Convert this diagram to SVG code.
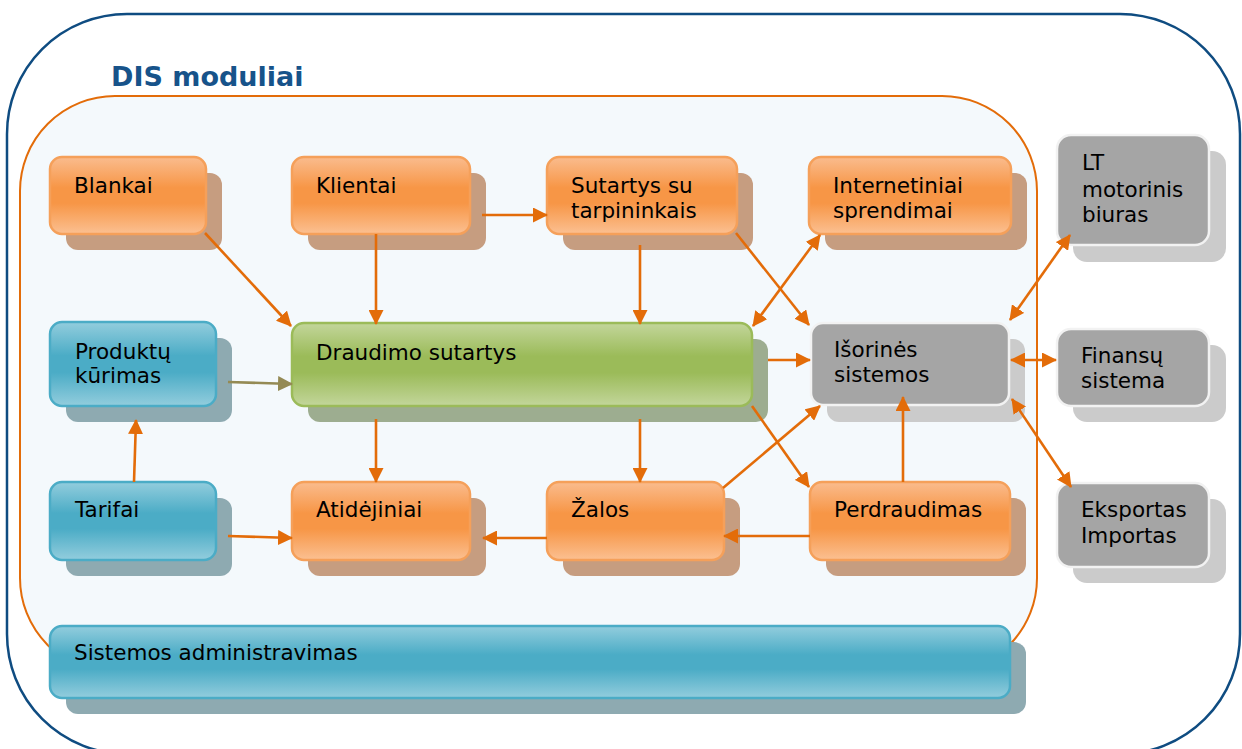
<svg xmlns="http://www.w3.org/2000/svg" width="1242" height="749" viewBox="0 0 1242 749">
<style>
.t{font-family:"DejaVu Sans","Verdana",sans-serif;font-size:21.5px;fill:#000}
.sh-o{fill:#c69d80}
.sh-b{fill:#8eaab1}
.sh-g{fill:#9dad90}
.sh-y{fill:#cbcbcb}
.n-o{fill:url(#gO);stroke:#f5a05a;stroke-width:2.5}
.n-b{fill:url(#gB);stroke:#4bacc6;stroke-width:2.5}
.n-g{fill:url(#gG);stroke:#9bbb59;stroke-width:2.5}
.n-y{fill:#a5a5a5;stroke:#f2f2f2;stroke-width:2.5}
.c{fill:none;stroke:#e36c09;stroke-width:2.6}
</style>
<defs>
<linearGradient id="gO" x1="0" y1="0" x2="0" y2="1">
<stop offset="0" stop-color="#fabc8e"/><stop offset="0.4" stop-color="#f79646"/><stop offset="0.6" stop-color="#f79646"/><stop offset="1" stop-color="#fbc092"/>
</linearGradient>
<linearGradient id="gB" x1="0" y1="0" x2="0" y2="1">
<stop offset="0" stop-color="#93cddd"/><stop offset="0.4" stop-color="#4bacc6"/><stop offset="0.6" stop-color="#4bacc6"/><stop offset="1" stop-color="#93cddd"/>
</linearGradient>
<linearGradient id="gG" x1="0" y1="0" x2="0" y2="1">
<stop offset="0" stop-color="#c3d69b"/><stop offset="0.4" stop-color="#9bbb59"/><stop offset="0.6" stop-color="#9bbb59"/><stop offset="1" stop-color="#c3d69b"/>
</linearGradient>
<marker id="a" markerUnits="userSpaceOnUse" markerWidth="15" markerHeight="15" refX="14" refY="7.5" orient="auto-start-reverse">
<path d="M0,0 L15,7.5 L0,15 z" fill="#e36c09"/>
</marker>
<marker id="ao" markerUnits="userSpaceOnUse" markerWidth="15" markerHeight="15" refX="14" refY="7.5" orient="auto">
<path d="M0,0 L15,7.5 L0,15 z" fill="#948a54"/>
</marker>
</defs>

<rect x="7" y="14" width="1233" height="740" rx="120" ry="120" fill="#ffffff" stroke="#0f4c81" stroke-width="2.5"/>
<text x="111" y="86" font-family="DejaVu Sans, Verdana, sans-serif" font-size="27" font-weight="bold" fill="#17538a">DIS moduliai</text>
<rect x="20" y="96" width="1017" height="577" rx="95" ry="95" fill="#f4f9fc" stroke="#e36c09" stroke-width="2"/>

<g id="blankai"><rect class="sh-o" x="66" y="173" width="156" height="77" rx="12"/><rect class="n-o" x="50" y="157" width="156" height="77" rx="12"/><text class="t" x="74" y="193">Blankai</text></g>
<g id="klientai"><rect class="sh-o" x="308" y="173" width="178" height="77" rx="12"/><rect class="n-o" x="292" y="157" width="178" height="77" rx="12"/><text class="t" x="316" y="193">Klientai</text></g>
<g id="sutartys"><rect class="sh-o" x="563" y="173" width="190" height="77" rx="12"/><rect class="n-o" x="547" y="157" width="190" height="77" rx="12"/><text class="t" x="571" y="193">Sutartys su</text><text class="t" x="571" y="218">tarpininkais</text></g>
<g id="internetiniai"><rect class="sh-o" x="825" y="173" width="202" height="77" rx="12"/><rect class="n-o" x="809" y="157" width="202" height="77" rx="12"/><text class="t" x="833" y="193">Internetiniai</text><text class="t" x="833" y="218">sprendimai</text></g>

<g id="produktu"><rect class="sh-b" x="66" y="338" width="166" height="84" rx="12"/><rect class="n-b" x="50" y="322" width="166" height="84" rx="12"/><text class="t" x="75" y="359">Produktų</text><text class="t" x="75" y="383">kūrimas</text></g>
<g id="draudimo"><rect class="sh-g" x="308" y="339" width="460" height="83" rx="12"/><rect class="n-g" x="292" y="323" width="460" height="83" rx="12"/><text class="t" x="316" y="360">Draudimo sutartys</text></g>
<g id="isorines"><rect class="sh-y" x="827" y="339" width="198" height="83" rx="12"/><rect class="n-y" x="811" y="323" width="198" height="82" rx="12"/><text class="t" x="834" y="357">Išorinės</text><text class="t" x="834" y="382">sistemos</text></g>

<g id="tarifai"><rect class="sh-b" x="66" y="498" width="166" height="78" rx="12"/><rect class="n-b" x="50" y="482" width="166" height="78" rx="12"/><text class="t" x="75" y="517">Tarifai</text></g>
<g id="atidejiniai"><rect class="sh-o" x="308" y="498" width="178" height="78" rx="12"/><rect class="n-o" x="292" y="482" width="178" height="78" rx="12"/><text class="t" x="316" y="517">Atidėjiniai</text></g>
<g id="zalos"><rect class="sh-o" x="563" y="498" width="177" height="78" rx="12"/><rect class="n-o" x="547" y="482" width="177" height="78" rx="12"/><text class="t" x="571" y="517">Žalos</text></g>
<g id="perdraudimas"><rect class="sh-o" x="826" y="498" width="200" height="78" rx="12"/><rect class="n-o" x="810" y="482" width="200" height="78" rx="12"/><text class="t" x="834" y="517">Perdraudimas</text></g>

<g id="admin"><rect class="sh-b" x="66" y="642" width="960" height="72" rx="12"/><rect class="n-b" x="50" y="626" width="960" height="72" rx="12"/><text class="t" x="74" y="660">Sistemos administravimas</text></g>

<g id="lt"><rect class="sh-y" x="1073" y="151" width="153" height="111" rx="14"/><rect class="n-y" x="1057" y="135" width="152" height="110" rx="14"/><text class="t" x="1082" y="170">LT</text><text class="t" x="1082" y="197">motorinis</text><text class="t" x="1082" y="222">biuras</text></g>
<g id="finansu"><rect class="sh-y" x="1073" y="345" width="153" height="77" rx="14"/><rect class="n-y" x="1057" y="329" width="152" height="77" rx="14"/><text class="t" x="1081" y="363">Finansų</text><text class="t" x="1081" y="388">sistema</text></g>
<g id="eksportas"><rect class="sh-y" x="1073" y="499" width="153" height="84" rx="14"/><rect class="n-y" x="1057" y="483" width="152" height="84" rx="14"/><text class="t" x="1081" y="517">Eksportas</text><text class="t" x="1081" y="543">Importas</text></g>

<g id="connectors">
<line class="c" x1="205" y1="233" x2="291" y2="326" marker-end="url(#a)"/>
<line class="c" x1="376" y1="234" x2="376" y2="324" marker-end="url(#a)"/>
<line class="c" x1="482" y1="215" x2="547" y2="215" marker-end="url(#a)"/>
<line class="c" x1="640" y1="245" x2="640" y2="324" marker-end="url(#a)"/>
<line class="c" x1="736" y1="233" x2="809" y2="325" marker-end="url(#a)"/>
<line class="c" x1="820" y1="235" x2="753" y2="326" marker-start="url(#a)" marker-end="url(#a)"/>
<line class="c" x1="768" y1="360" x2="810" y2="360" marker-end="url(#a)"/>
<line class="c" x1="752" y1="406" x2="809" y2="487" marker-end="url(#a)"/>
<line class="c" x1="723" y1="488" x2="820" y2="406" marker-end="url(#a)"/>
<line class="c" x1="903" y1="482" x2="903" y2="397" marker-end="url(#a)"/>
<line class="c" x1="376" y1="419" x2="376" y2="482" marker-end="url(#a)"/>
<line class="c" x1="640" y1="419" x2="640" y2="482" marker-end="url(#a)"/>
<line class="c" x1="810" y1="536" x2="724" y2="536" marker-end="url(#a)"/>
<line class="c" x1="547" y1="538" x2="483" y2="538" marker-end="url(#a)"/>
<line class="c" x1="228" y1="536" x2="292" y2="538" marker-end="url(#a)"/>
<line class="c" x1="134" y1="482" x2="136" y2="420" marker-end="url(#a)"/>
<line x1="228" y1="382" x2="292" y2="384" stroke="#948a54" stroke-width="2.6" marker-end="url(#ao)"/>
<line class="c" x1="1070" y1="235" x2="1010" y2="320" marker-start="url(#a)" marker-end="url(#a)"/>
<line class="c" x1="1011" y1="360" x2="1056" y2="360" marker-start="url(#a)" marker-end="url(#a)"/>
<line class="c" x1="1012" y1="399" x2="1071" y2="487" marker-start="url(#a)" marker-end="url(#a)"/>
</g>
</svg>
